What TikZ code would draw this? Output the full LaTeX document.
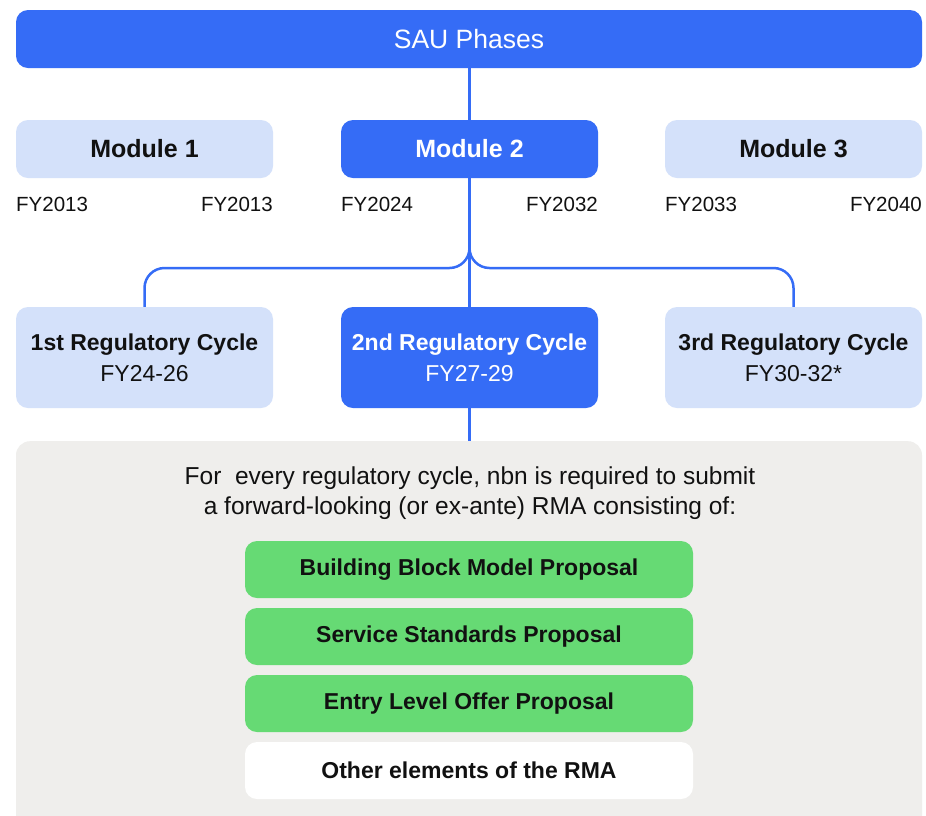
\documentclass[tikz,border=0pt]{standalone}
\usepackage{fontspec}
\setmainfont{Liberation Sans}
\usetikzlibrary{backgrounds}
\definecolor{blu}{HTML}{356CF6}
\definecolor{lblu}{HTML}{D4E1FA}
\definecolor{grn}{HTML}{66DA74}
\definecolor{pnl}{HTML}{EFEEEC}
\definecolor{ink}{HTML}{111111}
\begin{document}
\begin{tikzpicture}[x=1pt,y=-1pt,
  box/.style={rounded corners=12pt, inner sep=0pt, text=ink, align=center},
  modbox/.style={box, minimum width=257pt, minimum height=58pt, font=\fontsize{25}{30}\selectfont\bfseries},
  cycbox/.style={box, minimum width=257pt, minimum height=101pt, font=\fontsize{23}{31}\selectfont},
  light/.style={fill=lblu},
  dark/.style={fill=blu, text=white},
  fylab/.style={inner sep=0pt, text=ink, font=\fontsize{20.5}{24}\selectfont},
  rmabox/.style={box, minimum width=448pt, minimum height=57pt, font=\fontsize{23}{27}\selectfont\bfseries},
  conn/.style={draw=blu, line width=2.5pt}
]
\useasboundingbox (0,0) rectangle (926,815);

\node[box, dark, minimum width=906pt, minimum height=58pt, font=\fontsize{26.5}{31}\selectfont] (sau) at (469,39) {SAU Phases};

\node[modbox, light] (m1) at (144.5,149) {Module 1};
\node[modbox, dark] (m2) at (469.5,149) {Module 2};
\node[modbox, light] (m3) at (793.5,149) {Module 3};

\node[fylab, anchor=west] (f1a) at (16,204) {FY2013};
\node[fylab, anchor=east] (f1b) at (273,204) {FY2013};
\node[fylab, anchor=west] (f2a) at (341,204) {FY2024};
\node[fylab, anchor=east] (f2b) at (598,204) {FY2032};
\node[fylab, anchor=west] (f3a) at (665,204) {FY2033};
\node[fylab, anchor=east] (f3b) at (922,204) {FY2040};

\node[cycbox, light] (c1) at (144.5,357.5) {\textbf{1st Regulatory Cycle}\\FY24-26};
\node[cycbox, dark] (c2) at (469.5,357.5) {\textbf{2nd Regulatory Cycle}\\FY27-29};
\node[cycbox, light] (c3) at (793.5,357.5) {\textbf{3rd Regulatory Cycle}\\FY30-32*};

\begin{scope}
\clip (0,0) rectangle (926,815);
\node[fill=pnl, rounded corners=14pt, minimum width=906pt, minimum height=400pt, inner sep=0pt, anchor=north] (panel) at (469,441) {};
\end{scope}

\node[inner sep=0pt, align=center, text=ink, font=\fontsize{24.5}{30}\selectfont] (intro) at (470,493) {For\ \ every regulatory cycle, nbn is required to submit\\a forward-looking (or ex-ante) RMA consisting of:};

\node[rmabox, fill=grn] (r1) at (469,569.5) {Building Block Model Proposal};
\node[rmabox, fill=grn] (r2) at (469,636.5) {Service Standards Proposal};
\node[rmabox, fill=grn] (r3) at (469,703.5) {Entry Level Offer Proposal};
\node[rmabox, fill=white] (r4) at (469,770.5) {Other elements of the RMA};

\coordinate (jn) at (469.5,248);
\begin{scope}[on background layer]
\fill[white] (0,0) rectangle (926,815);
\draw[conn] (m2.north |- sau.south) -- (m2.north);
\draw[conn] (m2.south) -- (c2.north);
\draw[conn] (c2.south) -- (c2.south |- panel.north);
\draw[conn, rounded corners=20pt] (jn) -- (jn |- 0,268) -- (c1.north |- 0,268) -- (c1.north);
\draw[conn, rounded corners=20pt] (jn) -- (jn |- 0,268) -- (c3.north |- 0,268) -- (c3.north);
\end{scope}
\end{tikzpicture}
\end{document}
